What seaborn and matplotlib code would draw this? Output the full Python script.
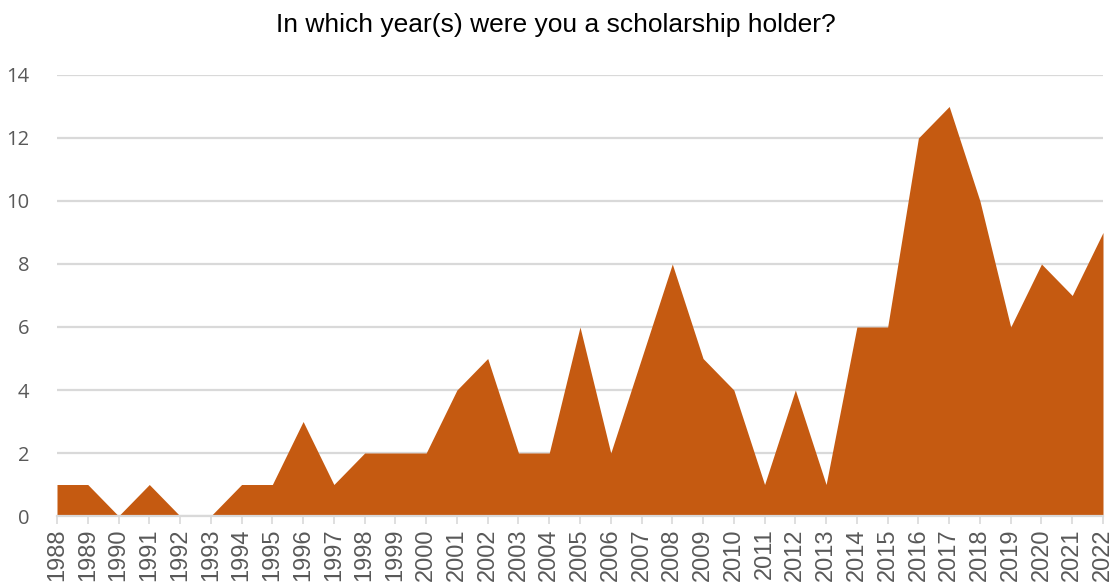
import pandas as pd
import matplotlib
matplotlib.use("Agg")
import matplotlib.pyplot as plt
import seaborn as sns

# data
years = list(range(1988, 2023))
holders = [1, 1, 0, 1, 0, 0, 1, 1, 3, 1, 2, 2, 2, 4, 5, 2, 2, 6, 2, 5,
           8, 5, 4, 1, 4, 1, 6, 6, 12, 13, 10, 6, 8, 7, 9]
title = "In which year(s) were you a scholarship holder?"

df = pd.DataFrame({"year": years, "holders": holders})

sns.set_theme(style="white")
plt.rcParams['font.family'] = ['Liberation Sans', 'DejaVu Sans']

fill_color = "#C55A11"
grid_color = "#D9D9D9"

fig, ax = plt.subplots(figsize=(11.11, 5.83), dpi=100)
fig.subplots_adjust(left=0.0513, right=0.9928, bottom=0.1149, top=0.8714)

sns.lineplot(data=df, x="year", y="holders", ax=ax, color=fill_color, linewidth=0)
ax.fill_between(df["year"], df["holders"], 0, color=fill_color, linewidth=0, zorder=2)

ax.set_xlim(df["year"].min(), df["year"].max())
ax.set_ylim(0, 14)
ax.set_yticks(range(0, 15, 2))
ax.set_xticks(years)
ax.set_xticklabels([str(y) for y in years], rotation=90, fontsize=17,
                   color="#595959")
for lbl in ax.get_yticklabels():
    lbl.set_fontfamily("Open Sans")
    lbl.set_fontsize(14.5)
    lbl.set_color("#595959")

ax.yaxis.grid(True, color=grid_color, linewidth=1.6)
ax.set_axisbelow(True)
for side in ["top", "right", "left"]:
    ax.spines[side].set_visible(False)
ax.spines["bottom"].set_color(grid_color)
ax.spines["bottom"].set_linewidth(1.6)
ax.spines["bottom"].set_zorder(3)

ax.tick_params(axis="x", which="major", bottom=True, length=6, width=1.2,
               color=grid_color, pad=3)
ax.tick_params(axis="y", length=0, pad=20)
ax.set_xlabel("")
ax.set_ylabel("")

fig.text(0.5, 0.957, title, ha="center", va="center", fontsize=19, color="black")

fig.savefig("out.png", dpi=100)
